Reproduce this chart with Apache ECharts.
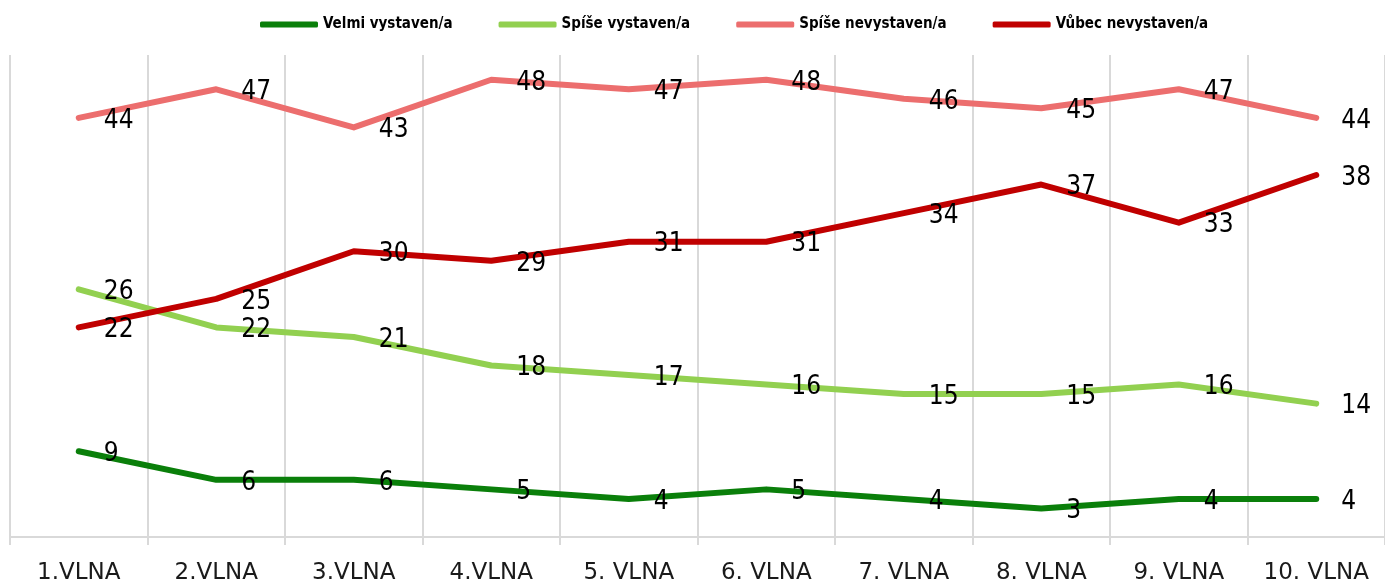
<!DOCTYPE html>
<html>
<head>
<meta charset="utf-8">
<script src="https://cdn.jsdelivr.net/npm/echarts@6/dist/echarts.min.js"></script>
<style>
  html, body { margin: 0; padding: 0; background: #fff; }
  #chart { width: 1385px; height: 585px; }
</style>
</head>
<body>
<div id="chart"></div>
<script>
const waves = ['1.VLNA', '2.VLNA', '3.VLNA', '4.VLNA', '5. VLNA', '6. VLNA', '7. VLNA', '8. VLNA', '9. VLNA', '10. VLNA']
const seriesNames = ['Velmi vystaven/a', 'Spíše vystaven/a', 'Spíše nevystaven/a', 'Vůbec nevystaven/a']
const velmiVystaven = [9, 6, 6, 5, 4, 5, 4, 3, 4, 4]
const spiseVystaven = [26, 22, 21, 18, 17, 16, 15, 15, 16, 14]
const spiseNevystaven = [44, 47, 43, 48, 47, 48, 46, 45, 47, 44]
const vubecNevystaven = [22, 25, 30, 29, 31, 31, 34, 37, 33, 38]
const colors = ['#0a7f0a', '#92d050', '#ec6e6e', '#c00000']

const labelFont = '"Liberation Sans Narrow", "DejaVu Sans Condensed", sans-serif'

function makeLine (name, data, color) {
  return {
    name: name,
    type: 'line',
    data: data,
    symbol: 'circle',
    symbolSize: 2,
    showSymbol: true,
    itemStyle: { color: color },
    lineStyle: { color: color, width: 6, cap: 'round', join: 'round' },
    label: {
      show: true,
      position: 'right',
      distance: 24,
      offset: [0, 3],
      color: '#000',
      fontSize: 26,
      fontFamily: labelFont
    }
  }
}

const chart = echarts.init(document.getElementById('chart'))
chart.setOption({
  animation: false,
  color: colors,
  legend: {
    top: 12,
    left: 255,
    icon: 'roundRect',
    itemWidth: 58,
    itemHeight: 6,
    itemGap: 46,
    textStyle: {
      fontSize: 15,
      fontWeight: 'bold',
      color: '#000',
      fontFamily: labelFont
    },
    data: seriesNames
  },
  grid: {
    left: 10,
    right: -5,
    top: 55,
    bottom: 48
  },
  xAxis: {
    type: 'category',
    data: waves,
    boundaryGap: true,
    axisLine: { lineStyle: { color: '#d9d9d9', width: 2 } },
    axisTick: { show: true, interval: 0, length: 8, lineStyle: { color: '#d9d9d9', width: 2 } },
    splitLine: { show: true, interval: 0, lineStyle: { color: '#d9d9d9', width: 2 } },
    axisLabel: {
      interval: 0,
      margin: 25,
      fontSize: 23,
      color: '#1a1a1a',
      fontFamily: '"DejaVu Sans", sans-serif'
    }
  },
  yAxis: {
    type: 'value',
    min: 0,
    max: 50.6,
    show: false,
    splitLine: { show: false }
  },
  series: [
    makeLine(seriesNames[0], velmiVystaven, colors[0]),
    makeLine(seriesNames[1], spiseVystaven, colors[1]),
    makeLine(seriesNames[2], spiseNevystaven, colors[2]),
    makeLine(seriesNames[3], vubecNevystaven, colors[3])
  ]
})
</script>
</body>
</html>
